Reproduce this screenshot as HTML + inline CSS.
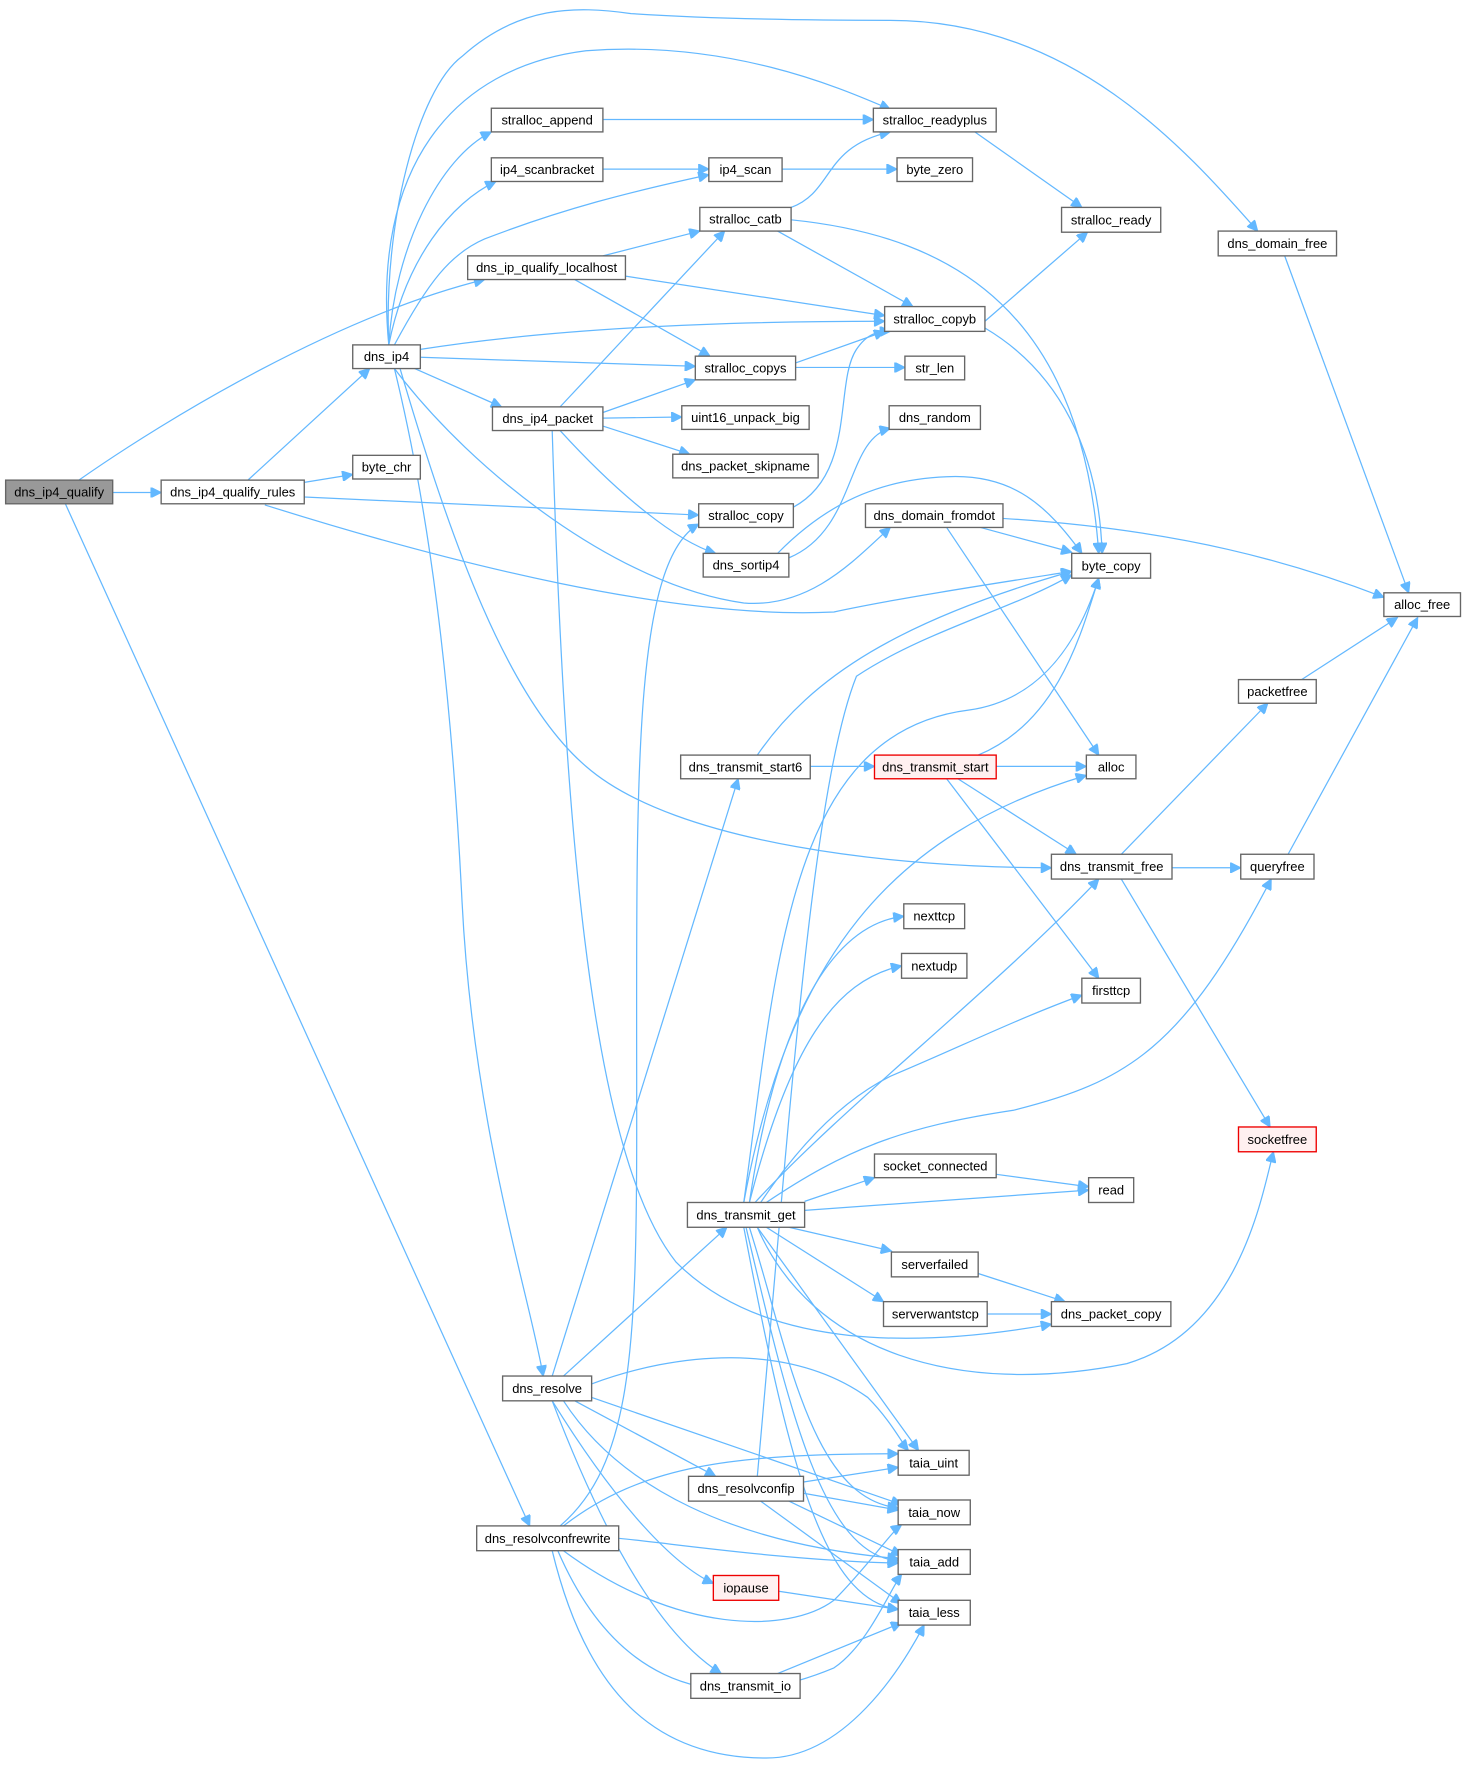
<!DOCTYPE html>
<html><head><meta charset="utf-8"><style>
html,body{margin:0;padding:0;background:#fff}
svg{display:block}
text{font-family:"Liberation Sans",Arial,sans-serif;font-size:11.5px;fill:#000;text-anchor:middle;dominant-baseline:central}
.n rect{fill:#fff;stroke:#666;stroke-width:1.2}
.r rect{fill:#fff0f0;stroke:#e00;stroke-width:1.2}
path{fill:none;stroke:#63b8ff;stroke-width:1.1}
</style></head><body>
<svg width="1465" height="1766" viewBox="0 0 1300 1567" xmlns="http://www.w3.org/2000/svg">
<defs><marker id="a" viewBox="0 0 10 10" refX="10" refY="5" markerWidth="11" markerHeight="9" markerUnits="userSpaceOnUse" orient="auto"><path d="M0,0L10,5L0,10z" style="fill:#63b8ff;stroke:#63b8ff"/></marker></defs>
<g marker-end="url(#a)">
<path d="M100,437L143,437"/>
<path d="M70,426C150,370 300,280 430,248"/>
<path d="M58,447L470,1354"/>
<path d="M270,428L313,421"/>
<path d="M220,426L328,327"/>
<path d="M270,441L620,457"/>
<path d="M235,448C400,500 600,550 740,543C800,530 900,515 951,507"/>
<path d="M345,306C350,220 390,140 436,117"/>
<path d="M345,306C360,230 400,180 440,161"/>
<path d="M345,306C330,150 400,60 520,45C650,35 750,80 790,97"/>
<path d="M345,306C340,200 370,80 410,50C460,5 510,5 560,12C650,18 750,18 790,18C950,18 1050,130 1116,205"/>
<path d="M350,306C380,250 400,225 430,212C500,185 560,170 629,155"/>
<path d="M373,310C500,290 650,285 785,285"/>
<path d="M373,317L617,325"/>
<path d="M368,327L445,361"/>
<path d="M350,327C420,420 550,520 660,535C720,540 760,495 790,468"/>
<path d="M355,327C400,480 450,620 520,680C600,750 800,770 933,770"/>
<path d="M350,327C380,450 400,600 410,800C420,1000 470,1150 482,1221"/>
<path d="M497,361L643,205"/>
<path d="M535,366L617,337"/>
<path d="M535,371L605,370"/>
<path d="M535,378L612,403"/>
<path d="M497,382C550,440 600,480 635,491"/>
<path d="M490,382C500,700 520,1020 600,1120C680,1200 820,1195 933,1175"/>
<path d="M535,106L775,106"/>
<path d="M535,150L629,150"/>
<path d="M694,150L796,150"/>
<path d="M535,227L621,205"/>
<path d="M555,245L785,280"/>
<path d="M510,248L630,316"/>
<path d="M702,184C740,170 730,130 790,117"/>
<path d="M690,205L810,272"/>
<path d="M702,195C850,210 960,280 975,491"/>
<path d="M865,117L960,184"/>
<path d="M874,285L965,206"/>
<path d="M874,291C940,330 975,400 978,491"/>
<path d="M706,322L785,294"/>
<path d="M706,326L803,326"/>
<path d="M704,450C760,420 740,340 760,310C770,295 780,294 790,294"/>
<path d="M700,495C760,470 750,390 790,380"/>
<path d="M690,491C740,440 790,425 840,423C900,420 930,450 960,491"/>
<path d="M870,468L951,490"/>
<path d="M890,460C1050,470 1150,500 1228,530"/>
<path d="M840,468L975,670"/>
<path d="M1140,227L1250,526"/>
<path d="M1155,603L1240,548"/>
<path d="M1143,758L1258,548"/>
<path d="M672,670C720,600 800,550 951,507"/>
<path d="M719,680L776,680"/>
<path d="M884,680L964,680"/>
<path d="M868,670C940,640 960,560 975,513"/>
<path d="M850,691L955,758"/>
<path d="M840,691L975,868"/>
<path d="M995,758L1125,624"/>
<path d="M1040,770L1101,770"/>
<path d="M995,780L1127,1000"/>
<path d="M660,1067C690,850 700,650 860,630C930,620 960,560 975,513"/>
<path d="M672,1310C700,1000 720,700 760,600C820,560 900,540 951,510"/>
<path d="M660,1067C700,850 790,740 964,688"/>
<path d="M665,1067C690,900 740,820 802,813"/>
<path d="M665,1067C700,930 740,870 800,857"/>
<path d="M670,1067C750,980 880,880 975,780"/>
<path d="M675,1067C720,1000 760,970 790,955C850,930 900,905 960,883"/>
<path d="M680,1067C750,1020 800,1000 900,985C1000,960 1050,930 1128,780"/>
<path d="M714,1066L776,1045"/>
<path d="M714,1074L966,1056"/>
<path d="M700,1089L791,1110"/>
<path d="M680,1089L784,1155"/>
<path d="M672,1089C720,1200 850,1240 1000,1210C1100,1180 1120,1060 1130,1022"/>
<path d="M672,1089L815,1287"/>
<path d="M665,1089C700,1200 720,1330 797,1338"/>
<path d="M662,1089C700,1250 730,1380 797,1385"/>
<path d="M660,1089C700,1300 730,1420 797,1428"/>
<path d="M868,1130L945,1155"/>
<path d="M876,1166L933,1166"/>
<path d="M884,1042L966,1053"/>
<path d="M490,1221L655,691"/>
<path d="M500,1221L645,1089"/>
<path d="M525,1228C600,1200 700,1190 770,1240C790,1260 800,1280 806,1287"/>
<path d="M510,1243L635,1310"/>
<path d="M525,1240L800,1335"/>
<path d="M500,1243C550,1320 650,1370 797,1383"/>
<path d="M490,1243C550,1340 600,1390 633,1405"/>
<path d="M490,1243C550,1400 600,1460 640,1485"/>
<path d="M713,1315L797,1302"/>
<path d="M713,1325L797,1340"/>
<path d="M700,1332L800,1380"/>
<path d="M675,1332L800,1423"/>
<path d="M497,1354C560,1300 565,1200 565,1000C565,700 560,500 620,465"/>
<path d="M500,1354C570,1300 650,1290 797,1290"/>
<path d="M500,1376C600,1450 700,1450 740,1420C770,1390 790,1360 800,1353"/>
<path d="M495,1376C540,1480 620,1530 740,1480C770,1460 790,1410 800,1397"/>
<path d="M490,1376C520,1500 580,1560 680,1560C750,1560 800,1480 820,1442"/>
<path d="M549,1365C600,1370 700,1385 797,1387"/>
<path d="M691,1412L797,1428"/>
<path d="M690,1485L800,1440"/>
</g>
<g class="n">
<rect x="5" y="426" width="95" height="21" style="fill:#999"/><text x="52.5" y="436.5">dns_ip4_qualify</text>
<rect x="143" y="426" width="127" height="21"/><text x="206.5" y="436.5">dns_ip4_qualify_rules</text>
<rect x="313" y="404" width="60" height="21"/><text x="343" y="414.5">byte_chr</text>
<rect x="313" y="306" width="60" height="21"/><text x="343" y="316.5">dns_ip4</text>
<rect x="436" y="96" width="99" height="21"/><text x="485.5" y="106.5">stralloc_append</text>
<rect x="436" y="140" width="99" height="21"/><text x="485.5" y="150.5">ip4_scanbracket</text>
<rect x="415" y="227" width="140" height="21"/><text x="485" y="237.5">dns_ip_qualify_localhost</text>
<rect x="437" y="361" width="98" height="21"/><text x="486" y="371.5">dns_ip4_packet</text>
<rect x="775" y="96" width="109" height="21"/><text x="829.5" y="106.5">stralloc_readyplus</text>
<rect x="629" y="140" width="65" height="21"/><text x="661.5" y="150.5">ip4_scan</text>
<rect x="796" y="140" width="67" height="21"/><text x="829.5" y="150.5">byte_zero</text>
<rect x="621" y="184" width="81" height="21"/><text x="661.5" y="194.5">stralloc_catb</text>
<rect x="942" y="184" width="88" height="22"/><text x="986" y="195">stralloc_ready</text>
<rect x="1081" y="205" width="105" height="22"/><text x="1133.5" y="216">dns_domain_free</text>
<rect x="785" y="272" width="89" height="22"/><text x="829.5" y="283">stralloc_copyb</text>
<rect x="617" y="316" width="89" height="21"/><text x="661.5" y="326.5">stralloc_copys</text>
<rect x="803" y="316" width="53" height="21"/><text x="829.5" y="326.5">str_len</text>
<rect x="605" y="360" width="113" height="21"/><text x="661.5" y="370.5">uint16_unpack_big</text>
<rect x="789" y="360" width="81" height="21"/><text x="829.5" y="370.5">dns_random</text>
<rect x="597" y="403" width="129" height="21"/><text x="661.5" y="413.5">dns_packet_skipname</text>
<rect x="620" y="447" width="84" height="21"/><text x="662" y="457.5">stralloc_copy</text>
<rect x="768" y="447" width="122" height="21"/><text x="829" y="457.5">dns_domain_fromdot</text>
<rect x="624" y="491" width="76" height="21"/><text x="662" y="501.5">dns_sortip4</text>
<rect x="951" y="491" width="70" height="22"/><text x="986" y="502">byte_copy</text>
<rect x="1228" y="526" width="68" height="21"/><text x="1262" y="536.5">alloc_free</text>
<rect x="1099" y="603" width="69" height="21"/><text x="1133.5" y="613.5">packetfree</text>
<rect x="604" y="670" width="115" height="21"/><text x="661.5" y="680.5">dns_transmit_start6</text>
<rect x="964" y="670" width="44" height="21"/><text x="986" y="680.5">alloc</text>
<rect x="933" y="758" width="107" height="22"/><text x="986.5" y="769">dns_transmit_free</text>
<rect x="1101" y="758" width="65" height="22"/><text x="1133.5" y="769">queryfree</text>
<rect x="802" y="802" width="54" height="22"/><text x="829" y="813">nexttcp</text>
<rect x="800" y="846" width="58" height="22"/><text x="829" y="857">nextudp</text>
<rect x="960" y="868" width="52" height="22"/><text x="986" y="879">firsttcp</text>
<rect x="776" y="1024" width="108" height="21"/><text x="830" y="1034.5">socket_connected</text>
<rect x="966" y="1045" width="40" height="22"/><text x="986" y="1056">read</text>
<rect x="610" y="1067" width="104" height="22"/><text x="662" y="1078">dns_transmit_get</text>
<rect x="791" y="1111" width="77" height="22"/><text x="829.5" y="1122">serverfailed</text>
<rect x="784" y="1155" width="92" height="22"/><text x="830" y="1166">serverwantstcp</text>
<rect x="933" y="1155" width="106" height="22"/><text x="986" y="1166">dns_packet_copy</text>
<rect x="446" y="1221" width="79" height="22"/><text x="485.5" y="1232">dns_resolve</text>
<rect x="797" y="1287" width="63" height="22"/><text x="828.5" y="1298">taia_uint</text>
<rect x="611" y="1310" width="102" height="22"/><text x="662" y="1321">dns_resolvconfip</text>
<rect x="797" y="1331" width="64" height="22"/><text x="829" y="1342">taia_now</text>
<rect x="423" y="1354" width="126" height="22"/><text x="486" y="1365">dns_resolvconfrewrite</text>
<rect x="797" y="1375" width="64" height="22"/><text x="829" y="1386">taia_add</text>
<rect x="797" y="1420" width="64" height="22"/><text x="829" y="1431">taia_less</text>
<rect x="613" y="1485" width="97" height="22"/><text x="661.5" y="1496">dns_transmit_io</text>
</g>
<g class="r">
<rect x="776" y="670" width="108" height="21"/><text x="830" y="680.5">dns_transmit_start</text>
<rect x="1099" y="1000" width="69" height="22"/><text x="1133.5" y="1011">socketfree</text>
<rect x="633" y="1398" width="58" height="22"/><text x="662" y="1409">iopause</text>
</g>
</svg>
</body></html>
